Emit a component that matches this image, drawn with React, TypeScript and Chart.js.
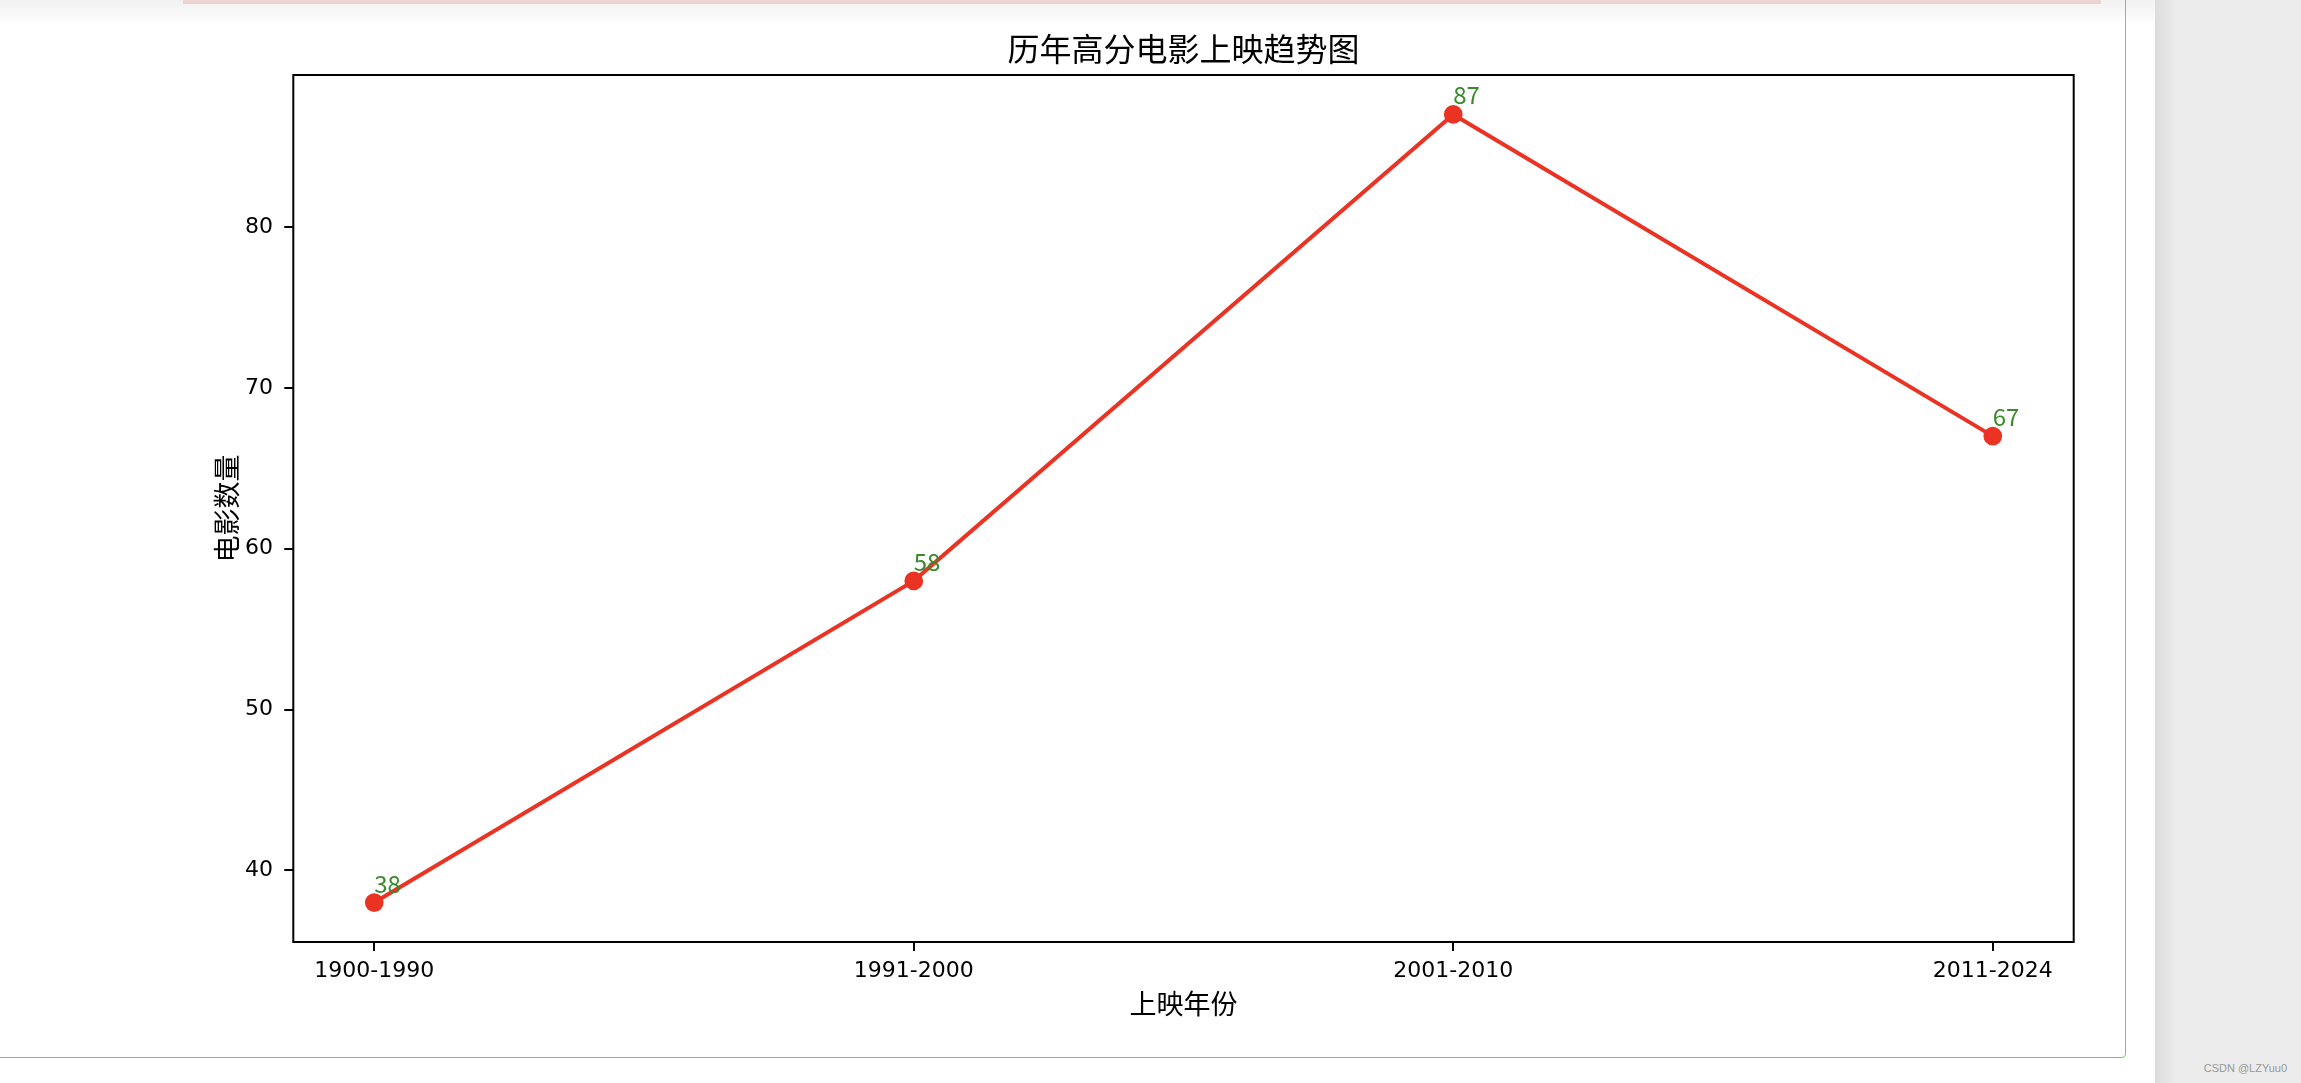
import { useEffect, useRef } from 'react'
import Chart from 'chart.js/auto'

const periods = ['1900-1990', '1991-2000', '2001-2010', '2011-2024']
const movieCounts = [38, 58, 87, 67]
const yTicks = [40, 50, 60, 70, 80]

const RED = '#ea3323'
const GREEN = '#3a8a2c'
const CJK = '"Noto Sans CJK SC", sans-serif'
const DIGITS = '"DejaVu Sans", "Noto Sans CJK SC", sans-serif'

// matplotlib-like auto margins (5% of the data range)
const yLo = Math.min(...movieCounts), yHi = Math.max(...movieCounts)
const yPad = (yHi - yLo) * 0.05
const xPad = (periods.length - 1) * 0.05

// full box around the plot + green value labels next to each point
const framePlugin = {
  id: 'frame',
  afterDatasetsDraw(chart: Chart) {
    const { ctx, chartArea: a } = chart
    const meta = chart.getDatasetMeta(0)
    ctx.save()
    ctx.font = `24px ${CJK}`
    ctx.fillStyle = GREEN
    ctx.textAlign = 'left'
    ctx.textBaseline = 'alphabetic'
    meta.data.forEach((pt: any, i: number) => ctx.fillText(String(movieCounts[i]), pt.x, pt.y - 10))
    ctx.strokeStyle = '#000'
    ctx.lineWidth = 2
    ctx.strokeRect(a.left, a.top, a.right - a.left, a.bottom - a.top)
    ctx.restore()
  },
}

function TrendChart() {
  const ref = useRef<HTMLCanvasElement>(null)
  useEffect(() => {
    if (!ref.current) return
    const axisGrid = { drawOnChartArea: false, drawTicks: true, tickLength: 9, color: '#000', lineWidth: 2 }
    const chart = new Chart(ref.current.getContext('2d')!, {
      type: 'line',
      data: {
        datasets: [{
          data: movieCounts.map((v, i) => ({ x: i, y: v })),
          borderColor: RED, backgroundColor: RED, borderWidth: 4, tension: 0,
          pointRadius: 8, pointBorderWidth: 2.7, pointBackgroundColor: RED, pointBorderColor: RED,
        }],
      },
      options: {
        responsive: false, animation: false,
        layout: { padding: { left: 200, right: 227.3, top: 0, bottom: 0 } },
        plugins: {
          legend: { display: false }, tooltip: { enabled: false },
          title: {
            display: true, text: '历年高分电影上映趋势图', fullSize: false, color: '#000',
            font: { family: CJK, size: 32, weight: 'normal' }, padding: { top: 29.2, bottom: 7.4 },
          },
        },
        scales: {
          x: {
            type: 'linear', min: -xPad, max: periods.length - 1 + xPad,
            afterBuildTicks: (s: any) => { s.ticks = periods.map((_, i) => ({ value: i })) },
            afterFit: (s: any) => { s.height = 141 },
            ticks: { callback: (v: any) => periods[v], color: '#000', font: { family: DIGITS, size: 22 }, padding: 7, maxRotation: 0, autoSkip: false },
            grid: axisGrid, border: { display: false },
            title: { display: true, text: '上映年份', color: '#000', font: { family: CJK, size: 27 }, padding: { top: 0, bottom: 62.8 } },
          },
          y: {
            min: yLo - yPad, max: yHi + yPad,
            afterBuildTicks: (s: any) => { s.ticks = yTicks.map(v => ({ value: v })) },
            afterFit: (s: any) => { s.width = 93.3 },
            ticks: { color: '#000', font: { family: DIGITS, size: 22 }, padding: 11.3 },
            grid: axisGrid, border: { display: false },
            title: { display: true, text: '电影数量', color: '#000', font: { family: CJK, size: 27 }, padding: { top: 10.5, bottom: 0 } },
          },
        },
      },
      plugins: [framePlugin],
    })
    return () => chart.destroy()
  }, [])
  return <canvas ref={ref} width={2301} height={1083} role="img" aria-label="历年高分电影上映趋势图"
    style={{ position: 'absolute', left: 0, top: 0, width: 2301, height: 1083 }} />
}

export default function App() {
  return (
    <div style={{ position: 'fixed', left: 0, top: 0, width: 2301, height: 1083, overflow: 'hidden', background: '#fff' }}>
      <div style={{ position: 'absolute', left: 0, top: 0, width: 2155, height: 26, background: 'linear-gradient(#f1f1f1, #fff)' }} />
      <div style={{ position: 'absolute', left: 183, top: 0, width: 1918, height: 4, background: '#eed3d3' }} />
      <div style={{ position: 'absolute', left: -10, top: -10, width: 2135.8, height: 1068, boxSizing: 'border-box', border: '1.5px solid #7dc575', borderRadius: 4 }} />
      <div style={{ position: 'absolute', left: 2155, top: 0, width: 146, height: 1083, background: 'linear-gradient(to right, #dcdcdc, #ececec 22px)' }} />
      <div style={{ position: 'absolute', right: 14, top: 1062, fontFamily: '"Liberation Sans", Arial, sans-serif', fontSize: 11, color: '#999' }}>CSDN @LZYuu0</div>
      <TrendChart />
    </div>
  )
}
